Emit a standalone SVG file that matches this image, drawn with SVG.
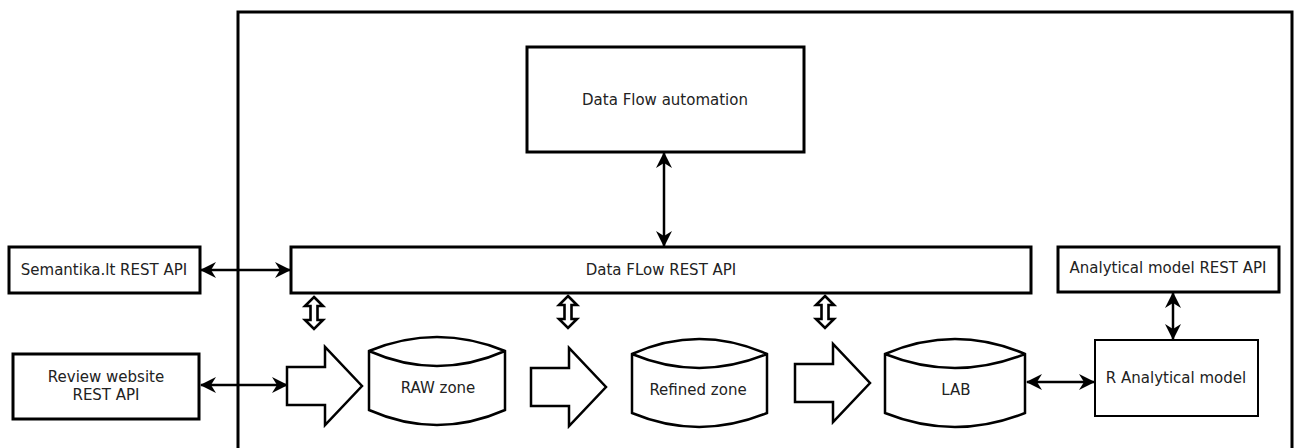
<svg xmlns="http://www.w3.org/2000/svg" width="1301" height="448" viewBox="0 0 1301 448">
<style>
.box{fill:#fff;stroke:#000;stroke-width:3}
.thin{fill:#fff;stroke:#000;stroke-width:2}
.shape{fill:#fff;stroke:#000;stroke-width:2.5;stroke-linejoin:miter}
.dbl{fill:#fff;stroke:#000;stroke-width:2.6;stroke-linejoin:miter}
.conn{fill:none;stroke:#000;stroke-width:2.5}
text{font-family:"DejaVu Sans","Liberation Sans",sans-serif;font-size:15px;fill:#222;text-anchor:middle;dominant-baseline:central}
</style>
<defs>
<marker id="ah" viewBox="0 0 16 16" refX="15" refY="8" markerWidth="16" markerHeight="16" markerUnits="userSpaceOnUse" orient="auto-start-reverse">
<path d="M0,0 L16,8 L0,16 L5,8 Z" fill="#000"/>
</marker>
<path id="blk" d="M0,-19 L38,-19 L38,-39 L75,0 L38,39 L38,19 L0,19 Z"/>
<path id="dbl" d="M0,-16 L9,-7 L3.5,-7 L3.5,7 L9,7 L0,16 L-9,7 L-3.5,7 L-3.5,-7 L-9,-7 Z"/>
</defs>
<rect width="1301" height="448" fill="#fff"/>
<g id="frame"><path d="M238,460 L238,12 L1292,12 L1292,460" fill="none" stroke="#000" stroke-width="3"/></g>

<g id="connectors">
<line class="conn" x1="201" y1="270" x2="290" y2="270" marker-start="url(#ah)" marker-end="url(#ah)"/>
<line class="conn" x1="664" y1="153" x2="664" y2="246" marker-start="url(#ah)" marker-end="url(#ah)"/>
<line class="conn" x1="201" y1="385" x2="287" y2="385" marker-start="url(#ah)" marker-end="url(#ah)"/>
<line class="conn" x1="1027" y1="382" x2="1094" y2="382" marker-start="url(#ah)" marker-end="url(#ah)"/>
<line class="conn" x1="1173" y1="293" x2="1173" y2="339" marker-start="url(#ah)" marker-end="url(#ah)"/>
<use href="#dbl" class="dbl" x="314" y="313"/>
<use href="#dbl" class="dbl" x="568" y="312"/>
<use href="#dbl" class="dbl" x="825" y="312"/>
<use href="#blk" class="shape" x="287" y="386"/>
<use href="#blk" class="shape" x="531" y="387"/>
<use href="#blk" class="shape" x="795" y="383"/>
</g>

<g id="automation"><rect class="box" x="527" y="47" width="277" height="105"/><text x="665" y="100">Data Flow automation</text></g>
<g id="restapi"><rect class="box" x="291" y="247" width="740" height="46"/><text x="661" y="270">Data FLow REST API</text></g>
<g id="semantika"><rect class="box" x="9" y="247" width="191" height="46"/><text x="104" y="270">Semantika.lt REST API</text></g>
<g id="review"><rect class="box" x="13" y="354" width="186" height="65"/><text x="106" y="377">Review website</text><text x="106" y="395">REST API</text></g>
<g id="raw"><path class="shape" d="M369,351 Q437,323 505,351 L505,410 Q437,440 369,410 Z M369,351 Q437,381 505,351"/><text x="438" y="388">RAW zone</text></g>
<g id="refined"><path class="shape" d="M632,354 Q699,324 767,354 L767,413 Q699,441 632,413 Z M632,354 Q699,382 767,354"/><text x="698" y="390">Refined zone</text></g>
<g id="lab"><path class="shape" d="M885,354 Q955,324 1025,354 L1025,413 Q955,441 885,413 Z M885,354 Q955,382 1025,354"/><text x="956" y="390">LAB</text></g>
<g id="ranalytical"><rect class="thin" x="1095" y="340" width="163" height="76"/><text x="1176" y="378">R Analytical model</text></g>
<g id="amrest"><rect class="box" x="1058" y="247" width="221" height="45"/><text x="1168" y="268">Analytical model REST API</text></g>
</svg>
